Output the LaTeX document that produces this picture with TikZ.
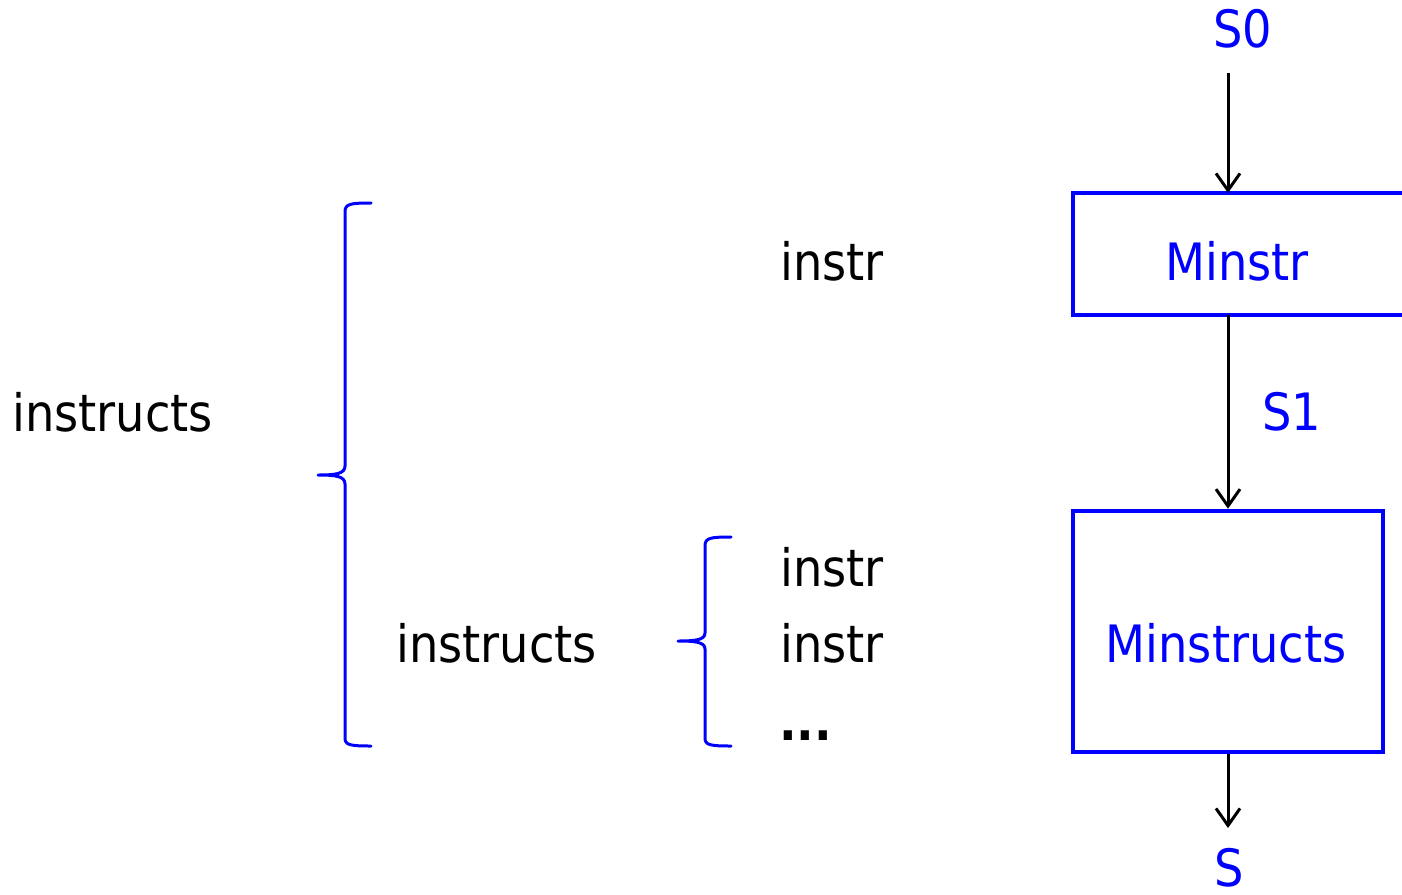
\documentclass[tikz,border=0pt]{standalone}
\usepackage{fontspec}
\setmainfont{DejaVu Sans Condensed}
\usetikzlibrary{arrows.meta}
\definecolor{mblue}{RGB}{0,0,255}
\begin{document}
\begin{tikzpicture}[x=1pt,y=-1pt,
  txt/.style={font=\fontsize{51.5}{60}\selectfont, anchor=base, inner sep=0pt},
  btxt/.style={txt, text=mblue},
  box/.style={draw=mblue, line width=4.5pt},
  flow/.style={line width=3pt, -{Straight Barb[length=17pt,width=24pt,line width=3pt]}},
  brace/.style={draw=mblue, line width=3pt, line cap=round, line join=round}]
\useasboundingbox (0,0) rectangle (1402,894);
% state labels and blocks
\node[btxt] (s0) at (1243,47) {S0};
\coordinate (s0b) at (1228,73);
\draw[box] (1402,193) -- (1073,193) -- (1073,315) -- (1402,315);
\coordinate (b1t) at (1228,193);
\coordinate (b1b) at (1228,315);
\node[btxt] (minstr) at (1237,280) {Minstr};
\node[box, minimum width=310pt, minimum height=241pt, inner sep=0pt] (b2) at (1228,631.5) {};
\node[btxt] (minstructs) at (1226,662) {Minstructs};
\node[btxt] (s1) at (1292,430) {S1};
\node[btxt] (s) at (1229,886) {S};
\coordinate (se) at (1228,828);
\draw[flow] (s0b) -- (b1t);
\draw[flow] (b1b) -- (b2.north);
\draw[flow] (b2.south) -- (se);
% grammar text
\node[txt, anchor=base west] (ins1) at (12,431) {instructs};
\node[txt, anchor=base west] (ins2) at (396,662) {instructs};
\node[txt, anchor=base west] (i1) at (780,280) {instr};
\node[txt, anchor=base west] (i2) at (780,586) {instr};
\node[txt, anchor=base west] (i3) at (780,662) {instr};
\node[txt, anchor=base west, font=\fontsize{51.5}{60}\selectfont\bfseries] (dots) at (779,740) {...};
% braces
\draw[brace] (371,203) .. controls (350,203) and (345,204) .. (345,212)
  -- (345,466) .. controls (345,474) and (335,475) .. (318,475)
  .. controls (335,475) and (345,476) .. (345,484)
  -- (345,738) .. controls (345,745) and (350,746) .. (371,746);
\draw[brace] (731,537) .. controls (710,537) and (705,538) .. (705,546)
  -- (705,633) .. controls (705,640) and (695,641) .. (678,641)
  .. controls (695,641) and (705,642) .. (705,649)
  -- (705,738) .. controls (705,745) and (710,746) .. (731,746);
\end{tikzpicture}
\end{document}
